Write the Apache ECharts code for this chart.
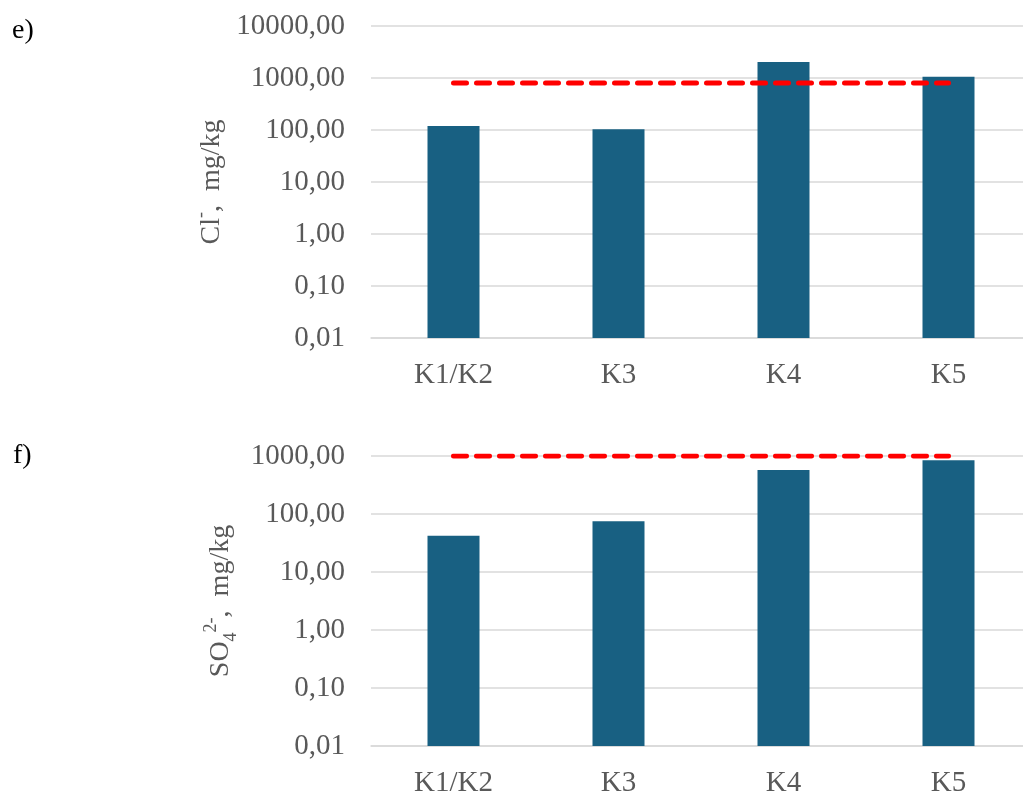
<!DOCTYPE html>
<html>
<head>
<meta charset="utf-8">
<script src="https://cdn.jsdelivr.net/npm/echarts@6/dist/echarts.min.js"></script>
<style>
  html, body { margin: 0; padding: 0; background: #fff; }
  #chart { width: 1023px; height: 792px; }
</style>
</head>
<body>
<div id="chart"></div>
<script>
// sampling points
const categories = ['K1/K2', 'K3', 'K4', 'K5']
// e) chloride, mg/kg
const clValues = [119, 103, 2040, 1060]
const clLimit = [800, 800, 800, 800]
// f) sulphate, mg/kg
const so4Values = [42, 75, 575, 844]
const so4Limit = [1000, 1000, 1000, 1000]

const serif = "'Liberation Serif', 'Times New Roman', serif"
const grey = '#595959'
const barColor = '#186082'

const chartInstance = echarts.init(document.getElementById('chart'), null, { renderer: 'canvas' })

// 0.01 -> "0,01"
function fmt(v) {
  return Number(v).toFixed(2).replace('.', ',')
}

function xAxisCfg(gridIndex) {
  return {
    type: 'category',
    gridIndex: gridIndex,
    data: categories,
    axisLine: { lineStyle: { color: '#d9d9d9', width: 1.5 } },
    axisTick: { show: false },
    axisLabel: { color: grey, fontFamily: serif, fontSize: 29, margin: 23 },
  }
}

function yAxisCfg(gridIndex, max, name, gap) {
  return {
    type: 'log',
    logBase: 10,
    gridIndex: gridIndex,
    min: 0.01,
    max: max,
    startValue: 0.01,
    name: name,
    nameLocation: 'middle',
    nameRotate: 90,
    nameGap: gap,
    nameTextStyle: {
      color: grey,
      fontFamily: serif,
      fontSize: 28,
      rich: {
        t: { color: grey, fontFamily: serif, fontSize: 28, lineHeight: 38 },
        sup: { color: grey, fontFamily: serif, fontSize: 18, verticalAlign: 'top' },
        sub: { color: grey, fontFamily: serif, fontSize: 18, verticalAlign: 'bottom' },
      },
    },
    axisLine: { show: false },
    axisTick: { show: false },
    splitLine: { lineStyle: { color: '#d9d9d9', width: 1.5 } },
    axisLabel: { color: grey, fontFamily: serif, fontSize: 29, margin: 26, formatter: fmt },
  }
}

function barSeries(idx, data) {
  return {
    type: 'bar',
    xAxisIndex: idx,
    yAxisIndex: idx,
    data: data,
    barWidth: 52,
    itemStyle: { color: barColor },
  }
}

function limitSeries(idx, data) {
  return {
    type: 'line',
    xAxisIndex: idx,
    yAxisIndex: idx,
    data: data,
    symbol: 'none',
    z: 5,
    lineStyle: { color: '#ff0000', width: 5, type: [13, 10], cap: 'round' },
  }
}

const option = {
  animation: false,
  backgroundColor: '#fff',
  grid: [
    { left: 371, top: 26, right: -8, height: 312, outerBoundsMode: 'none' },
    { left: 371, top: 456, right: -8, height: 290, outerBoundsMode: 'none' },
  ],
  xAxis: [xAxisCfg(0), xAxisCfg(1)],
  yAxis: [
    yAxisCfg(0, 10000, '{t|Cl}{sup|-}{t|,  mg/kg}', 126),
    yAxisCfg(1, 1000, '{t|SO}{sub|4}{sup|2-}{t|,  mg/kg}', 121),
  ],
  series: [
    barSeries(0, clValues),
    limitSeries(0, clLimit),
    barSeries(1, so4Values),
    limitSeries(1, so4Limit),
  ],
  graphic: [
    { type: 'text', left: 12, top: 17, style: { text: 'e)', fontFamily: serif, fontSize: 28, fill: '#000' } },
    { type: 'text', left: 13, top: 442, style: { text: 'f)', fontFamily: serif, fontSize: 28, fill: '#000' } },
  ],
}

chartInstance.setOption(option)
</script>
</body>
</html>
